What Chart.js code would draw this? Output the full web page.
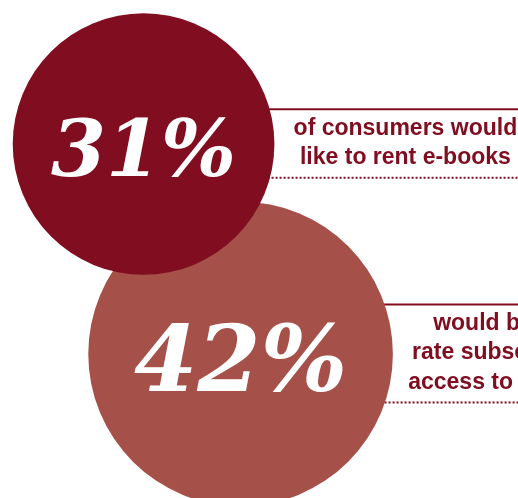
<!DOCTYPE html>
<html>
<head>
<meta charset="utf-8">
<script src="https://cdn.jsdelivr.net/npm/chart.js@4.4.1/dist/chart.umd.min.js"></script>
<style>
    html, body { margin: 0; padding: 0; background: #fff; }
    #wrap { width: 518px; height: 498px; }
</style>
</head>
<body>
<div id="wrap"><canvas id="chart"></canvas></div>
<script>
// survey shares, shown as bubbles sized by area
const shares = [31, 42];
const captions = [
    ['of consumers would', 'like to rent e-books'],
    ['would buy a flat-', 'rate subscription for', 'access to all e-books']
];

const bubbleColors = ['#800e20', '#a55048'];
const inkColor = '#800e20';
const radiusPerRoot = 23.5;   // px of radius per sqrt(percent)
const lineGap = 29.5;

function captionTop(el, lines) {
    return el.y - 1 - lineGap * (lines.length - 1) / 2;
}

// white percentage inside each bubble + caption with rules to the right
const bubbleLabels = {
    id: 'bubbleLabels',
    beforeDatasetsDraw(chart) {
        const ctx = chart.ctx;
        ctx.save();
        chart.data.datasets.forEach((ds, i) => {
            const el = chart.getDatasetMeta(i).data[0];
            const lines = captions[i];
            const firstY = captionTop(el, lines);
            const lastY = firstY + lineGap * (lines.length - 1);
            ctx.strokeStyle = inkColor;
            ctx.lineWidth = 2;
            ctx.setLineDash([]);
            ctx.beginPath();
            ctx.moveTo(el.x, firstY - 19);
            ctx.lineTo(chart.width, firstY - 19);
            ctx.stroke();
            ctx.setLineDash([2, 2]);
            ctx.beginPath();
            ctx.moveTo(el.x, lastY + 20);
            ctx.lineTo(chart.width, lastY + 20);
            ctx.stroke();
        });
        ctx.restore();
    },
    afterDatasetsDraw(chart) {
        const ctx = chart.ctx;
        ctx.save();
        chart.data.datasets.forEach((ds, i) => {
            const el = chart.getDatasetMeta(i).data[0];
            const r = el.options.radius;
            ctx.fillStyle = '#fff';
            ctx.textAlign = 'center';
            ctx.textBaseline = 'alphabetic';
            ctx.font = `italic bold ${Math.round(r * 0.6)}px "DejaVu Serif", serif`;
            ctx.fillText(shares[i] + '%', el.x, el.y + r * 0.245);

            const lines = captions[i];
            const firstY = captionTop(el, lines);
            ctx.fillStyle = inkColor;
            ctx.textBaseline = 'middle';
            ctx.font = 'bold 23px "Liberation Sans", Arial, sans-serif';
            lines.forEach((t, j) => ctx.fillText(t, el.x + r + 131, firstY + j * lineGap));
        });
        ctx.restore();
    }
};

new Chart(document.getElementById('chart'), {
    type: 'bubble',
    data: {
        datasets: shares.map((v, i) => ({
            label: v + '%',
            data: [{ x: i, y: i, r: radiusPerRoot * Math.sqrt(v) }],
            backgroundColor: bubbleColors[i],
            borderWidth: 0,
            hoverRadius: 0,
            clip: false
        }))
    },
    options: {
        responsive: true,
        maintainAspectRatio: false,
        animation: false,
        layout: { padding: 0, autoPadding: false },
        plugins: { legend: { display: false }, tooltip: { enabled: false } },
        scales: {
            x: { type: 'linear', display: false, min: -1.48, max: 3.86 },
            y: { type: 'linear', display: false, reverse: true, min: -0.686, max: 1.686 }
        }
    },
    plugins: [bubbleLabels]
});
</script>
</body>
</html>
